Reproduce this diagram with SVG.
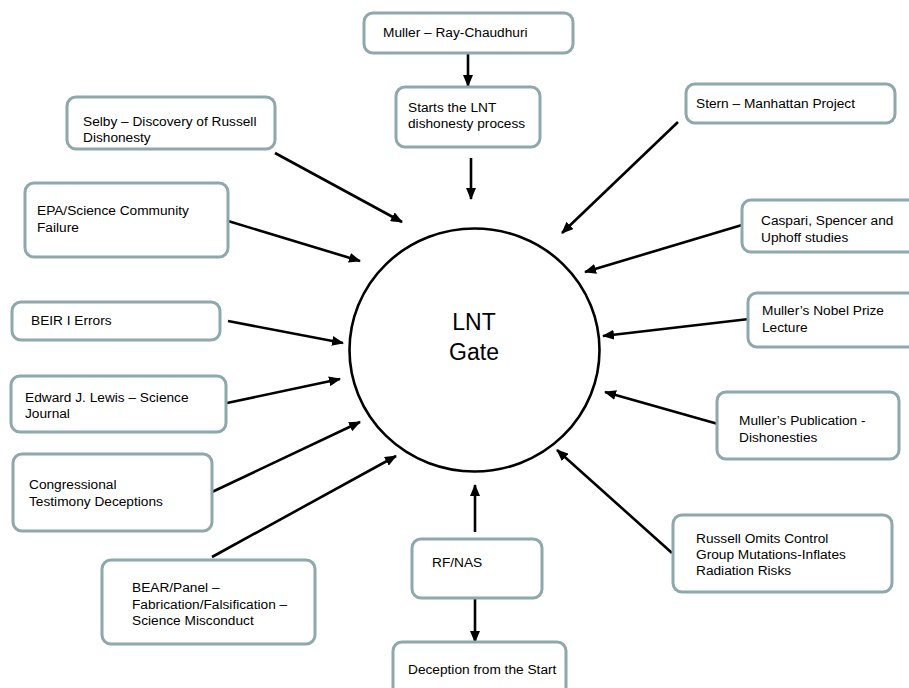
<svg xmlns="http://www.w3.org/2000/svg" width="909" height="688" viewBox="0 0 909 688">
<style>
.box{fill:#ffffff;stroke:#8ea8ac;stroke-width:3}
.t{font-family:"Liberation Sans",Arial,sans-serif;font-size:13.7px;fill:#000}
.c{fill:none;stroke:#000;stroke-width:2.6}
.big{font-family:"Liberation Sans",Arial,sans-serif;font-size:23px;fill:#000;text-anchor:middle}
</style>
<defs>
<marker id="ah" markerUnits="userSpaceOnUse" markerWidth="12" markerHeight="10" refX="11" refY="5" orient="auto">
<path d="M0,0 L12,5 L0,10 z" fill="#000"/>
</marker>
</defs>
<rect width="909" height="688" fill="#ffffff"/>
<g id="connectors">
<line class="c" x1="468" y1="54" x2="468" y2="86" marker-end="url(#ah)"/>
<line class="c" x1="471" y1="158" x2="471" y2="199" marker-end="url(#ah)"/>
<line class="c" x1="275" y1="153" x2="402" y2="222" marker-end="url(#ah)"/>
<line class="c" x1="678" y1="122" x2="562" y2="233" marker-end="url(#ah)"/>
<line class="c" x1="228" y1="221" x2="360" y2="261" marker-end="url(#ah)"/>
<line class="c" x1="742" y1="225" x2="585" y2="272" marker-end="url(#ah)"/>
<line class="c" x1="749" y1="319" x2="603" y2="336" marker-end="url(#ah)"/>
<line class="c" x1="228" y1="321" x2="343" y2="343" marker-end="url(#ah)"/>
<line class="c" x1="227" y1="403" x2="340" y2="379" marker-end="url(#ah)"/>
<line class="c" x1="212" y1="492" x2="360" y2="422" marker-end="url(#ah)"/>
<line class="c" x1="718" y1="424" x2="605" y2="392" marker-end="url(#ah)"/>
<line class="c" x1="672" y1="553" x2="557" y2="450" marker-end="url(#ah)"/>
<line class="c" x1="212" y1="557" x2="396" y2="456" marker-end="url(#ah)"/>
<line class="c" x1="475" y1="532" x2="475" y2="485" marker-end="url(#ah)"/>
<line class="c" x1="475" y1="599" x2="475" y2="642" marker-end="url(#ah)"/>
</g>
<g id="lnt-gate">
<ellipse cx="474.5" cy="350" rx="125" ry="121.5" fill="#ffffff" stroke="#000" stroke-width="2.6"/>
<text class="big" x="474" y="330">LNT</text>
<text class="big" x="474" y="360">Gate</text>
</g>
<g id="muller-ray">
<rect class="box" x="364" y="13" width="209" height="40" rx="9"/>
<text class="t" x="383" y="37">Muller – Ray-Chaudhuri</text>
</g>
<g id="starts">
<rect class="box" x="396" y="87" width="144" height="60" rx="9"/>
<text class="t" x="408" y="112">Starts the LNT</text>
<text class="t" x="408" y="128">dishonesty process</text>
</g>
<g id="selby">
<rect class="box" x="67" y="97" width="208" height="52" rx="9"/>
<text class="t" x="83" y="126">Selby – Discovery of Russell</text>
<text class="t" x="83" y="142">Dishonesty</text>
</g>
<g id="stern">
<rect class="box" x="686" y="84" width="209" height="39" rx="9"/>
<text class="t" x="696" y="108">Stern – Manhattan Project</text>
</g>
<g id="epa">
<rect class="box" x="25" y="183" width="203" height="74" rx="9"/>
<text class="t" x="37" y="215">EPA/Science Community</text>
<text class="t" x="37" y="232">Failure</text>
</g>
<g id="caspari">
<rect class="box" x="742" y="200" width="180" height="52" rx="9"/>
<text class="t" x="761" y="225">Caspari, Spencer and</text>
<text class="t" x="761" y="242">Uphoff studies</text>
</g>
<g id="nobel">
<rect class="box" x="748" y="293" width="175" height="54" rx="9"/>
<text class="t" x="762" y="315">Muller’s Nobel Prize</text>
<text class="t" x="762" y="332">Lecture</text>
</g>
<g id="beir">
<rect class="box" x="12" y="302" width="208" height="38" rx="9"/>
<text class="t" x="31" y="325">BEIR I Errors</text>
</g>
<g id="lewis">
<rect class="box" x="11" y="376" width="215" height="56" rx="9"/>
<text class="t" x="25" y="402">Edward J. Lewis – Science</text>
<text class="t" x="25" y="418">Journal</text>
</g>
<g id="publication">
<rect class="box" x="717" y="392" width="182" height="67" rx="9"/>
<text class="t" x="739" y="425">Muller’s Publication -</text>
<text class="t" x="739" y="442">Dishonesties</text>
</g>
<g id="congressional">
<rect class="box" x="13" y="454" width="199" height="77" rx="9"/>
<text class="t" x="29" y="489">Congressional</text>
<text class="t" x="29" y="506">Testimony Deceptions</text>
</g>
<g id="russell">
<rect class="box" x="673" y="515" width="219" height="77" rx="9"/>
<text class="t" x="696" y="543">Russell Omits Control</text>
<text class="t" x="696" y="559">Group Mutations-Inflates</text>
<text class="t" x="696" y="575">Radiation Risks</text>
</g>
<g id="bear">
<rect class="box" x="102" y="560" width="213" height="84" rx="9"/>
<text class="t" x="132" y="592">BEAR/Panel –</text>
<text class="t" x="132" y="609">Fabrication/Falsification –</text>
<text class="t" x="132" y="625">Science Misconduct</text>
</g>
<g id="rfnas">
<rect class="box" x="412" y="539" width="130" height="59" rx="9"/>
<text class="t" x="432" y="567">RF/NAS</text>
</g>
<g id="deception">
<rect class="box" x="393" y="642" width="173" height="60" rx="9"/>
<text class="t" x="408" y="674">Deception from the Start</text>
</g>
</svg>
